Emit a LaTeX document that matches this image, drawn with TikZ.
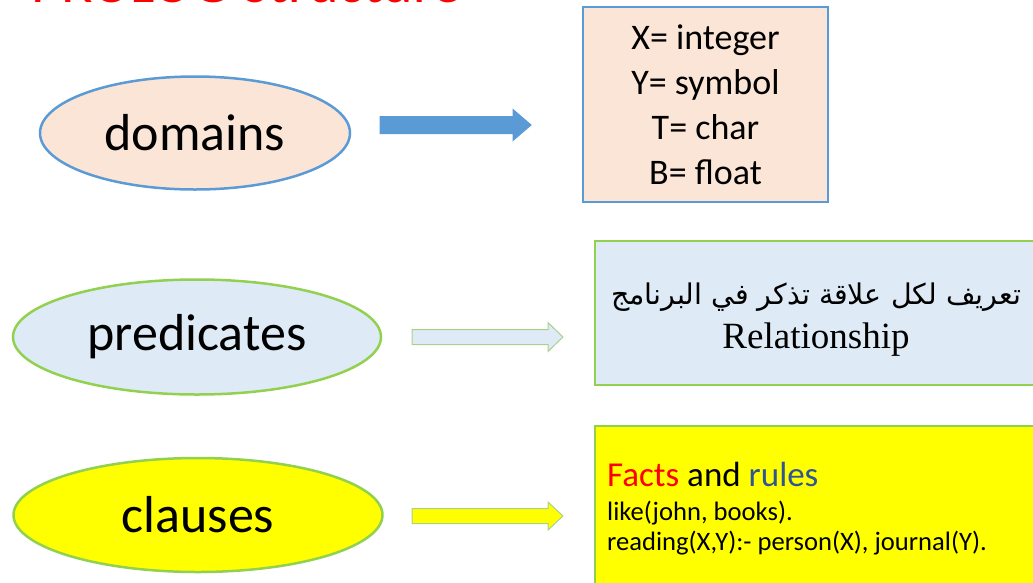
\documentclass[tikz,border=0pt]{standalone}
\usepackage{fontspec}
\setmainfont{Carlito}
\newfontfamily\timesfont{Liberation Serif}
\newfontfamily\arabicfont[Script=Arabic]{DejaVu Sans}
\TeXXeTstate=1
\usetikzlibrary{shapes.geometric}

\definecolor{peach}{HTML}{FBE5D6}
\definecolor{skyblue}{HTML}{5B9BD5}
\definecolor{paleblue}{HTML}{DEEBF7}
\definecolor{leafgreen}{HTML}{92D050}
\definecolor{softgreen}{HTML}{A9D18E}
\definecolor{rulesblue}{HTML}{2F5597}
\definecolor{lemon}{HTML}{FFFF00}

\tikzset{
  part/.style={ellipse, line width=2.5pt, inner sep=0pt, font=\fontsize{52}{60}\selectfont},
  infobox/.style={rectangle, line width=2.5pt, inner sep=0pt},
  blockarrow/.style={line width=1pt}
}

% start, length, shaft half, head half, head length
\newcommand{\blockarrow}[6]{%
  \path[blockarrow,#1] (#2) ++(0,-#4) -- ++({#3-#6},0) -- ++(0,{#4-#5})
    -- ++(#6,#5) -- ++(-#6,#5) -- ++(0,{#4-#5}) -- ++({#6-#3},0) -- cycle;}

\begin{document}
\begin{tikzpicture}[x=1pt,y=-1pt]

      \useasboundingbox (0,0) rectangle (1033,582);

      \node[anchor=base west, text=red, font=\fontsize{58}{60}\selectfont] (title) at (28,2.5) {PROLOG Structure};

      \begin{scope}[every node/.style={part}]
        \node[fill=peach, draw=skyblue, minimum width=310pt, minimum height=113pt] (dom)  at (195,133) {domains};
        \node[fill=paleblue, draw=leafgreen, minimum width=368pt, minimum height=115pt] (pred) at (197,337) {predicates};
        \node[fill=lemon, draw=leafgreen, minimum width=369pt, minimum height=114pt] (cls)  at (198,515) {clauses};
      \end{scope}

      \begin{scope}[every node/.style={infobox}]
        \node[fill=peach, draw=skyblue, minimum width=245pt, minimum height=195pt,
              align=center, font=\fontsize{36}{45}\selectfont] (dombox) at (705.5,104.5)
              {X= integer\\Y= symbol\\T= char\\B= float};
        \node[fill=paleblue, draw=leafgreen, minimum width=450pt, minimum height=144pt] (predbox) at (820,313) {};
        \node[fill=lemon, draw=leafgreen, minimum width=450pt, minimum height=174pt] (clsbox) at (820,513) {};
      \end{scope}

      \node[align=center, font=\fontsize{30}{44}\selectfont] (predtxt) at (816,320)
        {{\arabicfont\fontsize{28.5}{44}\selectfont\beginR تعريف لكل علاقة تذكر في البرنامج\endR}\\
         {\timesfont\fontsize{37}{44}\selectfont Relationship}};

      \node[anchor=base west, align=left, inner sep=0pt, font=\fontsize{26.6}{30}\selectfont] (clstxt) at (607,550)
        {{\fontsize{35}{36}\selectfont\textcolor{red}{Facts} and \textcolor{rulesblue}{rules}}\\[4pt]
         like(john, books).\\
         reading(X,Y):- person(X), journal(Y).};

      \blockarrow{fill=skyblue, draw=skyblue}{380,125}{151}{8.5}{15.5}{18}
      \blockarrow{fill=paleblue, draw=softgreen}{412,337}{151}{7.5}{14.5}{15}
      \blockarrow{fill=lemon, draw=softgreen}{412,516}{151}{7.5}{14}{15}

    \end{tikzpicture}
\end{document}
